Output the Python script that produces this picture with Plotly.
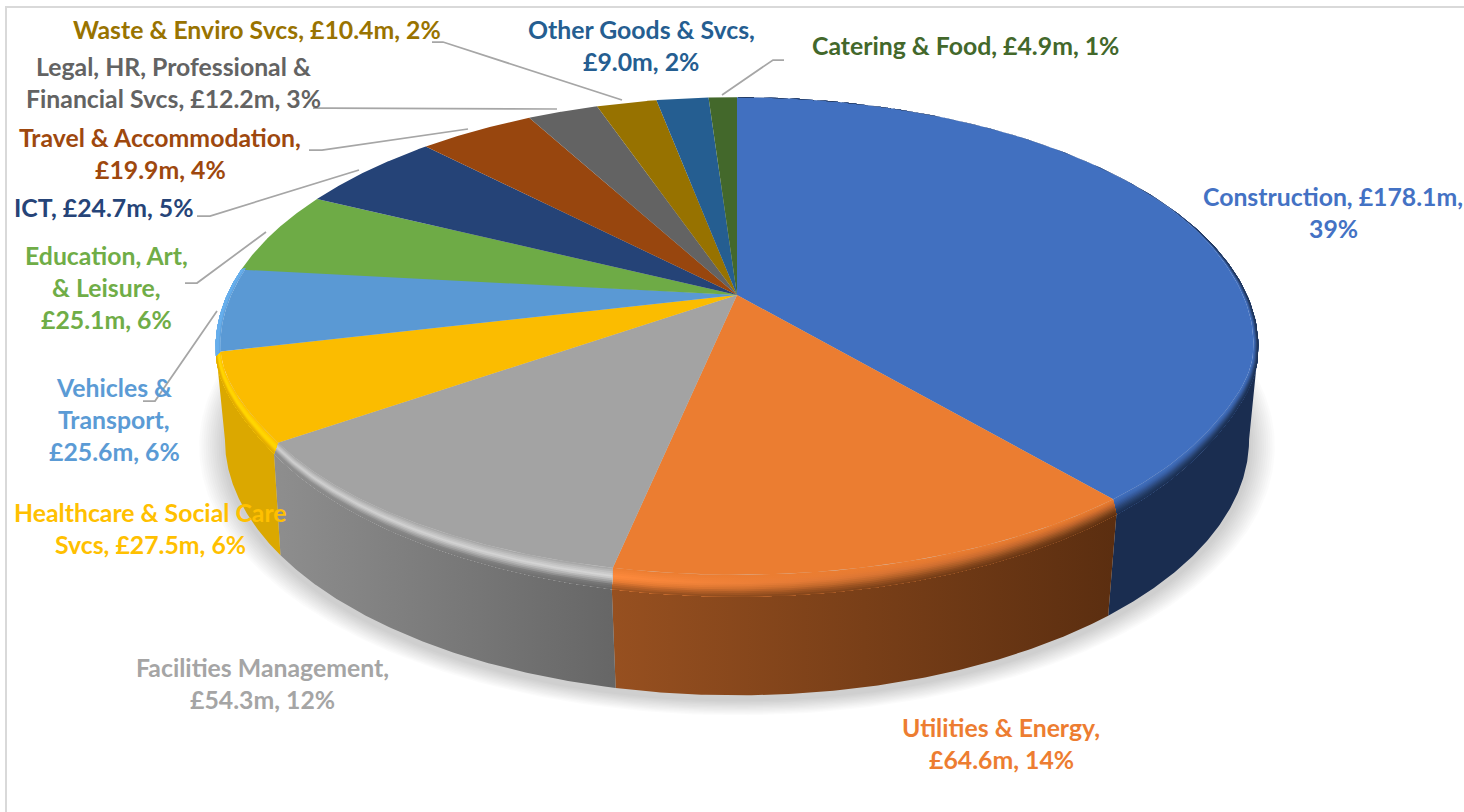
import numpy as np
import plotly.graph_objects as go

# ---------- data ----------
categories = ["Construction", "Utilities & Energy", "Facilities Management",
              "Healthcare & Social Care Svcs", "Vehicles & Transport",
              "Education, Art, & Leisure", "ICT", "Travel & Accommodation",
              "Legal, HR, Professional & Financial Svcs", "Waste & Enviro Svcs",
              "Other Goods & Svcs", "Catering & Food"]
values = [178.1, 64.6, 54.3, 27.5, 25.6, 25.1, 24.7, 19.9, 12.2, 10.4, 9.0, 4.9]
label_lines = [
    ["Construction, £178.1m,", "39%"],
    ["Utilities & Energy,", "£64.6m, 14%"],
    ["Facilities Management,", "£54.3m, 12%"],
    ["Healthcare & Social Care", "Svcs, £27.5m, 6%"],
    ["Vehicles &", "Transport,", "£25.6m, 6%"],
    ["Education, Art,", "& Leisure,", "£25.1m, 6%"],
    ["ICT, £24.7m, 5%"],
    ["Travel & Accommodation,", "£19.9m, 4%"],
    ["Legal, HR, Professional &", "Financial Svcs, £12.2m, 3%"],
    ["Waste & Enviro Svcs, £10.4m, 2%"],
    ["Other Goods & Svcs,", "£9.0m, 2%"],
    ["Catering & Food, £4.9m, 1%"],
]

# ---------- styles ----------
face_colors = ["#4170c0", "#eb7d31", "#a3a3a3", "#fbbc00", "#5a99d4", "#6eab46",
               "#254377", "#98460e", "#636363", "#977200", "#255e91", "#43682b"]
text_colors = ["#4472c4", "#ed7d31", "#a5a5a5", "#ffc000", "#5b9bd5", "#70ad47",
               "#264478", "#9e480e", "#636363", "#997300", "#255e91", "#43682b"]
# side wall colours: left end, right end
side_colors = {0: ("#1a2d50", "#1a2d50"), 1: ("#975020", "#5b2e10"),
               2: ("#8e8e8e", "#666666"), 3: ("#dba800", "#dba800")}
# rim profiles: colour at each stop from inner edge to outer edge
bevel_stops = [0.0, 0.2, 0.4, 0.6, 0.8, 1.0]
bevel_left = {
    0: ["#4170c0", "#3c68b2", "#34589a", "#2a4778", "#203860", "#1a2d50"],
    1: ["#eb7d31", "#f58437", "#ff8b3d", "#f08035", "#c0662a", "#975020"],
    2: ["#a3a3a3", "#bcbcbc", "#d0d0d0", "#b0b0b0", "#909090", "#8e8e8e"],
    3: ["#fbbc00", "#ffca00", "#ffd800", "#ffd200", "#ecb400", "#dba800"],
    4: ["#5a99d4", "#5fa2df", "#66aeec", "#66aeec", "#66aeec", "#66aeec"],
}
bevel_right = {
    0: bevel_left[0],
    1: ["#eb7d31", "#d8722d", "#b8602a", "#8f4e20", "#6f3a16", "#5b2e10"],
    2: ["#a3a3a3", "#c0c0c0", "#d8d8d8", "#a8a8a8", "#747474", "#666666"],
    3: bevel_left[3],
    4: bevel_left[4],
}
font_family = "Lato"
font_size = 24.8
line_pitch = 32

# layout of labels: centre x, first-line centre y
label_pos = [(1333, 196), (1001, 727), (262, 667), (150, 512), (114, 387), (106, 255),
             (104, 207), (160, 137), (173, 66), (257, 29), (641, 29), (965, 45)]
leaders = [[(432, 42), (443, 42), (622, 100)],
           [(313, 108), (330, 108), (557, 109)],
           [(309, 150), (322, 150), (468, 129)],
           [(197, 216), (210, 216), (359, 170)],
           [(185, 283), (197, 283), (266, 232)],
           [(143, 401), (155, 401), (217, 311)],
           [(784, 60), (773, 60), (722, 95)]]

# projection of the tilted disc: top face and bottom face
CX = 737.0
TOP = dict(a=510.0, b=239.0, cy=295.0, k=0.208)
BOT = dict(a=504.0, b=248.0, cy=394.0, k=0.177)


def smooth(x, a, b):
    t = np.clip((x - a) / (b - a), 0, 1)
    return t * t * (3 - 2 * t)


def proj(theta, p=TOP):
    u, v = np.sin(theta), -np.cos(theta)
    d = 1 - p["k"] * v
    a = p["a"]
    if p is TOP:
        a = a * (1 - 0.018 * smooth(v, 0.25, 0.6))
    return CX + a * u / d, p["cy"] + p["b"] * v / d


def bevel_curve(theta, t):
    """Point on the rim band; t=0 inner edge, t=1 outer edge (the rim)."""
    x, y = proj(theta)
    u, v = np.sin(theta), -np.cos(theta)
    fade = smooth(v, -0.6, -0.1)
    h = (2 + 20 * np.clip(v, 0, 1) ** 1.5) * fade
    return x - u * 5 * fade * (1 - t), y - h * (1 - t)


def hex2rgb(c):
    return np.array([int(c[i:i + 2], 16) for i in (1, 3, 5)], float)


def profile(colors, t):
    rgb = np.array([hex2rgb(c) for c in colors])
    vals = [np.interp(t, bevel_stops, rgb[:, j]) for j in range(3)]
    return "rgb(%d,%d,%d)" % tuple(round(x) for x in vals)


fracs = np.cumsum([0] + values) / sum(values)
angles = fracs * 2 * np.pi

fig = go.Figure()


def poly(x, y, color=None, grad=None):
    kw = dict(x=x, y=y, mode="lines", fill="toself", line=dict(width=0),
              hoverinfo="skip", showlegend=False)
    if grad:
        kw["fillgradient"] = dict(type="horizontal", start=grad[0], stop=grad[1],
                                  colorscale=[[0, grad[2]], [1, grad[3]]])
        kw["fillcolor"] = grad[2]
    else:
        kw["fillcolor"] = color
    fig.add_trace(go.Scatter(**kw))


# soft shadow
circle = np.linspace(0, 2 * np.pi, 361)
for i in range(12):
    sx, sy = proj(circle, BOT)
    grow = 1 + (12 - i) * 0.0042
    poly(CX + (sx - CX) * grow, 398 + (sy - 398) * grow + 5, "rgba(0,0,0,0.017)")

# side walls of the front slices, clipped at the silhouette tangents
top_lo, top_hi = np.arccos(-TOP["k"]), 2 * np.pi - np.arccos(-TOP["k"])
bot_lo, bot_hi = np.arccos(-BOT["k"]), 2 * np.pi - np.arccos(-BOT["k"])
last_side = max(side_colors)
for i in side_colors:
    start_t, end_t = max(angles[i], top_lo), angles[i + 1]
    start_b, end_b = max(angles[i], bot_lo), angles[i + 1]
    if i == last_side:
        end_t, end_b = top_hi, bot_hi
    tx, ty = proj(np.linspace(start_t, end_t, 120))
    bx, by = proj(np.linspace(start_b, end_b, 120), BOT)
    xs = np.r_[tx, bx[::-1]]
    ys = np.r_[ty, by[::-1]]
    l, r = side_colors[i]
    poly(xs, ys, grad=(xs.min(), xs.max(), l, r))

# top faces: bevelled slices stop at the inner edge of the rim band
for i in range(len(values)):
    th = np.linspace(angles[i], angles[i + 1], 120)
    tx, ty = bevel_curve(th, 0.0) if i in bevel_left else proj(th)
    poly(np.r_[CX, tx], np.r_[TOP["cy"], ty], face_colors[i])

# rim bevel
N = 12
for i in bevel_left:
    th = np.linspace(angles[i], angles[i + 1], 120)
    for k in range(N):
        t = k / N
        ix, iy = bevel_curve(th, t)
        ox, oy = bevel_curve(th, 1.0)
        xs = np.r_[ox, ix[::-1]]
        ys = np.r_[oy, iy[::-1]]
        poly(xs, ys, grad=(xs.min(), xs.max(),
                           profile(bevel_left[i], t + 0.5 / N),
                           profile(bevel_right[i], t + 0.5 / N)))

# leader lines
shapes = [dict(type="path", xref="x", yref="y", layer="above",
               path="M" + " L".join(f"{x},{y}" for x, y in pts),
               line=dict(color="#a6a6a6", width=1.75)) for pts in leaders]
# chart frame, top and left edges
shapes.append(dict(type="path", xref="x", yref="y", layer="below",
                   path="M6,812 L6,7 L1464,7", line=dict(color="#d9d9d9", width=2)))

# labels
annotations = []
for i, lines in enumerate(label_lines):
    x0, y0 = label_pos[i]
    for j, line in enumerate(lines):
        annotations.append(dict(x=x0, y=y0 + j * line_pitch, xref="x", yref="y",
                                text=f"<b>{line}</b>", showarrow=False,
                                xanchor="center", yanchor="middle",
                                font=dict(family=font_family, size=font_size,
                                          color=text_colors[i])))

fig.update_layout(width=1464, height=812, margin=dict(l=0, r=0, t=0, b=0),
                  paper_bgcolor="white", plot_bgcolor="white",
                  xaxis=dict(range=[0, 1464], visible=False, fixedrange=True),
                  yaxis=dict(range=[812, 0], visible=False, fixedrange=True),
                  shapes=shapes, annotations=annotations, showlegend=False)
fig.write_html("out.html", post_script="document.body.style.margin='0';",
               config={"displayModeBar": False})
